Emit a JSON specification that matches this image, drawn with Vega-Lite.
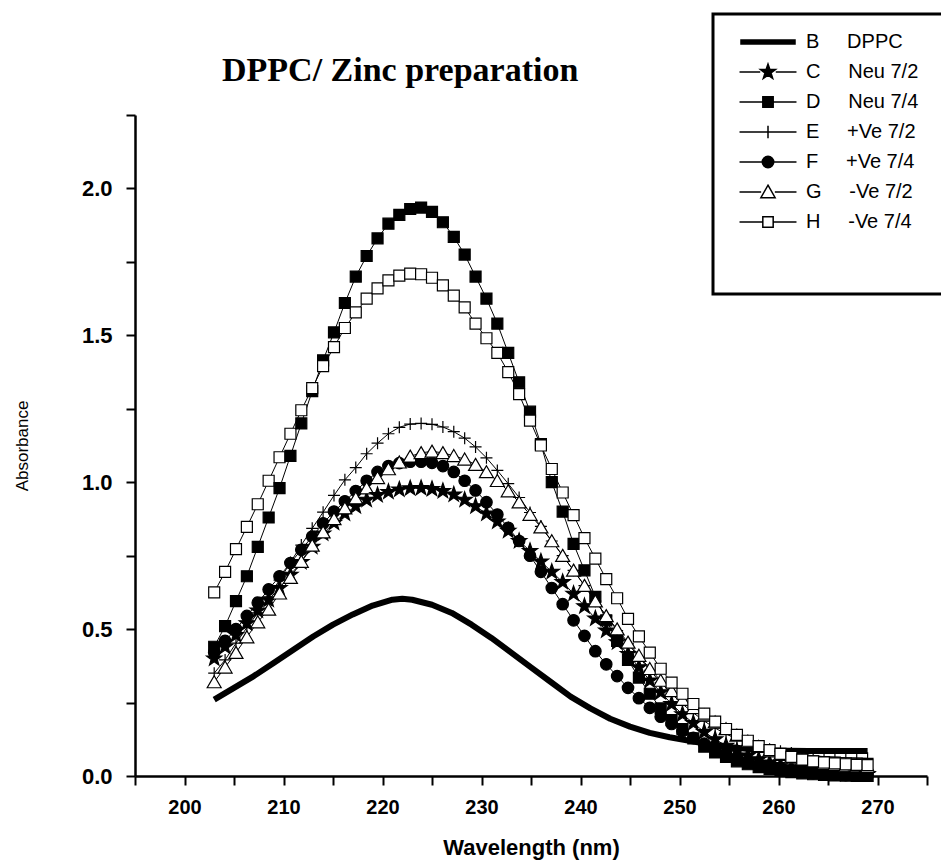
{
  "$schema": "https://vega.github.io/schema/vega-lite/v6.json",
  "width": 792,
  "height": 661,
  "autosize": {"type": "none"},
  "padding": {"left": 135, "top": 115, "right": 14, "bottom": 91},
  "background": "white",
  "title": {"text": "DPPC/ Zinc preparation", "font": "Liberation Serif", "fontSize": 34, "fontWeight": "bold", "color": "black", "anchor": "start", "frame": "group", "dx": 87, "offset": 0, "baseline": "alphabetic", "dy": 102},
  "config": {
    "view": {"stroke": null},
    "legend": {"strokeWidth": 3},
    "axis": {"domainColor": "black", "domainWidth": 2.5, "tickColor": "black", "tickWidth": 2, "tickSize": 9, "labelFont": "Liberation Sans", "labelFontWeight": "bold", "labelColor": "black", "titleColor": "black", "grid": false, "labelOverlap": false, "labelFlush": false}
  },
  "resolve": {"scale": {"shape": "independent", "fill": "independent", "stroke": "independent"}, "legend": {"shape": "independent", "fill": "independent", "stroke": "independent"}},
  "datasets": {
    "b": [
      {"x": 203, "y": 0.26}, {"x": 205, "y": 0.30}, {"x": 207, "y": 0.34}, {"x": 209, "y": 0.385}, {"x": 211, "y": 0.43},
      {"x": 213, "y": 0.475}, {"x": 215, "y": 0.515}, {"x": 217, "y": 0.55}, {"x": 219, "y": 0.58}, {"x": 221, "y": 0.60},
      {"x": 222, "y": 0.603}, {"x": 223, "y": 0.60}, {"x": 225, "y": 0.583}, {"x": 227, "y": 0.555}, {"x": 229, "y": 0.515},
      {"x": 231, "y": 0.47}, {"x": 233, "y": 0.42}, {"x": 235, "y": 0.37}, {"x": 237, "y": 0.32}, {"x": 239, "y": 0.27},
      {"x": 241, "y": 0.23}, {"x": 243, "y": 0.195}, {"x": 245, "y": 0.168}, {"x": 247, "y": 0.147}, {"x": 249, "y": 0.132},
      {"x": 251, "y": 0.12}, {"x": 253, "y": 0.108}, {"x": 255, "y": 0.099}, {"x": 257, "y": 0.092}, {"x": 259, "y": 0.088},
      {"x": 261, "y": 0.086}, {"x": 263, "y": 0.085}, {"x": 265, "y": 0.085}, {"x": 267, "y": 0.085}, {"x": 269, "y": 0.085}
    ],
    "m": [
      {"x": 203.0, "C": 0.40, "D": 0.44, "E": 0.35, "F": 0.42, "G": 0.32, "H": 0.625},
      {"x": 204.1, "C": 0.44, "D": 0.51, "E": 0.395, "F": 0.46, "G": 0.37, "H": 0.695},
      {"x": 205.2, "C": 0.48, "D": 0.595, "E": 0.452, "F": 0.50, "G": 0.42, "H": 0.772},
      {"x": 206.3, "C": 0.52, "D": 0.68, "E": 0.505, "F": 0.545, "G": 0.473, "H": 0.848},
      {"x": 207.4, "C": 0.563, "D": 0.78, "E": 0.555, "F": 0.59, "G": 0.524, "H": 0.925},
      {"x": 208.5, "C": 0.60, "D": 0.88, "E": 0.61, "F": 0.635, "G": 0.567, "H": 1.005},
      {"x": 209.6, "C": 0.64, "D": 0.98, "E": 0.667, "F": 0.68, "G": 0.622, "H": 1.085},
      {"x": 210.7, "C": 0.685, "D": 1.09, "E": 0.727, "F": 0.725, "G": 0.675, "H": 1.165},
      {"x": 211.8, "C": 0.728, "D": 1.20, "E": 0.786, "F": 0.77, "G": 0.73, "H": 1.245},
      {"x": 212.9, "C": 0.78, "D": 1.31, "E": 0.843, "F": 0.815, "G": 0.785, "H": 1.32},
      {"x": 214.0, "C": 0.825, "D": 1.415, "E": 0.898, "F": 0.86, "G": 0.83, "H": 1.395},
      {"x": 215.1, "C": 0.862, "D": 1.51, "E": 0.955, "F": 0.90, "G": 0.875, "H": 1.46},
      {"x": 216.2, "C": 0.893, "D": 1.61, "E": 1.008, "F": 0.935, "G": 0.912, "H": 1.525},
      {"x": 217.3, "C": 0.918, "D": 1.70, "E": 1.05, "F": 0.97, "G": 0.946, "H": 1.578},
      {"x": 218.4, "C": 0.94, "D": 1.77, "E": 1.097, "F": 1.005, "G": 0.98, "H": 1.625},
      {"x": 219.5, "C": 0.956, "D": 1.83, "E": 1.133, "F": 1.035, "G": 1.015, "H": 1.66},
      {"x": 220.6, "C": 0.967, "D": 1.88, "E": 1.165, "F": 1.055, "G": 1.045, "H": 1.687},
      {"x": 221.7, "C": 0.975, "D": 1.91, "E": 1.187, "F": 1.065, "G": 1.068, "H": 1.703},
      {"x": 222.8, "C": 0.979, "D": 1.93, "E": 1.198, "F": 1.07, "G": 1.088, "H": 1.71},
      {"x": 223.9, "C": 0.98, "D": 1.935, "E": 1.20, "F": 1.07, "G": 1.10, "H": 1.708},
      {"x": 225.0, "C": 0.977, "D": 1.92, "E": 1.197, "F": 1.066, "G": 1.105, "H": 1.696},
      {"x": 226.1, "C": 0.97, "D": 1.885, "E": 1.188, "F": 1.055, "G": 1.10, "H": 1.67},
      {"x": 227.2, "C": 0.958, "D": 1.835, "E": 1.172, "F": 1.035, "G": 1.09, "H": 1.635},
      {"x": 228.3, "C": 0.94, "D": 1.775, "E": 1.15, "F": 1.005, "G": 1.078, "H": 1.595},
      {"x": 229.4, "C": 0.918, "D": 1.70, "E": 1.12, "F": 0.972, "G": 1.06, "H": 1.54},
      {"x": 230.5, "C": 0.893, "D": 1.625, "E": 1.083, "F": 0.932, "G": 1.035, "H": 1.49},
      {"x": 231.6, "C": 0.866, "D": 1.54, "E": 1.04, "F": 0.89, "G": 1.005, "H": 1.44},
      {"x": 232.7, "C": 0.835, "D": 1.44, "E": 0.995, "F": 0.845, "G": 0.97, "H": 1.375},
      {"x": 233.8, "C": 0.80, "D": 1.34, "E": 0.948, "F": 0.80, "G": 0.932, "H": 1.30},
      {"x": 234.9, "C": 0.766, "D": 1.24, "E": 0.897, "F": 0.75, "G": 0.89, "H": 1.21},
      {"x": 236.0, "C": 0.73, "D": 1.13, "E": 0.85, "F": 0.695, "G": 0.847, "H": 1.125},
      {"x": 237.1, "C": 0.695, "D": 1.00, "E": 0.80, "F": 0.64, "G": 0.80, "H": 1.045},
      {"x": 238.2, "C": 0.66, "D": 0.90, "E": 0.75, "F": 0.585, "G": 0.75, "H": 0.965},
      {"x": 239.3, "C": 0.62, "D": 0.79, "E": 0.70, "F": 0.53, "G": 0.70, "H": 0.888},
      {"x": 240.4, "C": 0.578, "D": 0.70, "E": 0.648, "F": 0.477, "G": 0.648, "H": 0.81},
      {"x": 241.5, "C": 0.536, "D": 0.61, "E": 0.595, "F": 0.425, "G": 0.595, "H": 0.74},
      {"x": 242.6, "C": 0.495, "D": 0.53, "E": 0.545, "F": 0.38, "G": 0.545, "H": 0.67},
      {"x": 243.7, "C": 0.455, "D": 0.46, "E": 0.495, "F": 0.34, "G": 0.50, "H": 0.605},
      {"x": 244.8, "C": 0.415, "D": 0.395, "E": 0.45, "F": 0.30, "G": 0.455, "H": 0.535},
      {"x": 245.9, "C": 0.37, "D": 0.335, "E": 0.405, "F": 0.265, "G": 0.41, "H": 0.475},
      {"x": 247.0, "C": 0.325, "D": 0.28, "E": 0.36, "F": 0.232, "G": 0.365, "H": 0.42},
      {"x": 248.1, "C": 0.285, "D": 0.23, "E": 0.318, "F": 0.202, "G": 0.325, "H": 0.365},
      {"x": 249.2, "C": 0.245, "D": 0.19, "E": 0.28, "F": 0.177, "G": 0.29, "H": 0.318},
      {"x": 250.3, "C": 0.21, "D": 0.16, "E": 0.245, "F": 0.152, "G": 0.26, "H": 0.28},
      {"x": 251.4, "C": 0.18, "D": 0.128, "E": 0.215, "F": 0.13, "G": 0.232, "H": 0.245},
      {"x": 252.5, "C": 0.15, "D": 0.10, "E": 0.187, "F": 0.11, "G": 0.207, "H": 0.212},
      {"x": 253.6, "C": 0.125, "D": 0.08, "E": 0.163, "F": 0.092, "G": 0.183, "H": 0.185},
      {"x": 254.7, "C": 0.103, "D": 0.065, "E": 0.143, "F": 0.077, "G": 0.16, "H": 0.16},
      {"x": 255.8, "C": 0.085, "D": 0.05, "E": 0.126, "F": 0.063, "G": 0.138, "H": 0.14},
      {"x": 256.9, "C": 0.07, "D": 0.04, "E": 0.112, "F": 0.051, "G": 0.118, "H": 0.12},
      {"x": 258.0, "C": 0.057, "D": 0.03, "E": 0.10, "F": 0.041, "G": 0.10, "H": 0.102},
      {"x": 259.1, "C": 0.046, "D": 0.024, "E": 0.091, "F": 0.032, "G": 0.085, "H": 0.088},
      {"x": 260.2, "C": 0.037, "D": 0.018, "E": 0.084, "F": 0.025, "G": 0.073, "H": 0.075},
      {"x": 261.3, "C": 0.03, "D": 0.013, "E": 0.078, "F": 0.019, "G": 0.063, "H": 0.065},
      {"x": 262.4, "C": 0.024, "D": 0.009, "E": 0.073, "F": 0.014, "G": 0.055, "H": 0.056},
      {"x": 263.5, "C": 0.019, "D": 0.006, "E": 0.069, "F": 0.01, "G": 0.048, "H": 0.05},
      {"x": 264.6, "C": 0.015, "D": 0.004, "E": 0.066, "F": 0.007, "G": 0.043, "H": 0.046},
      {"x": 265.7, "C": 0.012, "D": 0.002, "E": 0.064, "F": 0.005, "G": 0.039, "H": 0.043},
      {"x": 266.8, "C": 0.01, "D": 0.001, "E": 0.062, "F": 0.003, "G": 0.036, "H": 0.04},
      {"x": 267.9, "C": 0.008, "D": 0.0, "E": 0.061, "F": 0.002, "G": 0.034, "H": 0.038},
      {"x": 269.0, "C": 0.007, "D": 0.0, "E": 0.06, "F": 0.001, "G": 0.032, "H": 0.037}
    ]
  },
  "layer": [
    {
      "data": {"name": "b"},
      "mark": {"type": "line", "color": "black", "strokeWidth": 6, "strokeCap": "butt", "strokeJoin": "round"},
      "encoding": {
        "x": {"field": "x", "type": "quantitative", "scale": {"domain": [195, 275], "nice": false, "zero": false},
          "axis": {"title": "Wavelength (nm)", "values": [195, 200, 205, 210, 215, 220, 225, 230, 235, 240, 245, 250, 255, 260, 265, 270, 275],
            "labelExpr": "datum.value % 10 === 0 ? datum.label : ''", "labelPadding": 12, "labelFontSize": 20,
            "titleFont": "Liberation Sans", "titleFontSize": 22, "titleFontWeight": "bold", "titlePadding": 20,
            "encode": {"ticks": {"y2": {"value": {"expr": "datum.value % 10 === 0 ? 9 : 5"}}}}}},
        "y": {"field": "y", "type": "quantitative", "scale": {"domain": [0, 2.25], "nice": false, "zero": false},
          "axis": {"title": "Absorbance", "values": [0, 0.25, 0.5, 0.75, 1, 1.25, 1.5, 1.75, 2, 2.25],
            "labelExpr": "datum.value * 2 === round(datum.value * 2) ? format(datum.value, '.1f') : ''", "labelPadding": 14, "labelFontSize": 22,
            "titleFont": "Liberation Sans", "titleFontSize": 17, "titleFontWeight": "normal", "titlePadding": 50,
            "encode": {"ticks": {"x2": {"value": {"expr": "datum.value * 2 === round(datum.value * 2) ? -9 : -5"}}}}}}
      }
    },
    {
      "data": {"name": "m"},
      "transform": [{"fold": ["C", "D", "E", "F", "G", "H"], "as": ["s", "v"]}],
      "layer": [
        {
          "mark": {"type": "line", "color": "black", "strokeWidth": 1},
          "encoding": {
            "x": {"field": "x", "type": "quantitative"},
            "y": {"field": "v", "type": "quantitative"},
            "detail": {"field": "s", "type": "nominal"}
          }
        },
        {
          "mark": {"type": "point", "filled": true, "stroke": "black", "strokeWidth": 1.2, "opacity": 1, "size": 100},
          "encoding": {
            "x": {"field": "x", "type": "quantitative"},
            "y": {"field": "v", "type": "quantitative"},
            "fill": {"field": "s", "type": "nominal", "legend": null,
              "scale": {"domain": ["C", "D", "E", "F", "G", "H"], "range": ["black", "black", "transparent", "black", "white", "white"]}},
            "shape": {"field": "s", "type": "nominal", "legend": null,
              "scale": {"domain": ["C", "D", "E", "F", "G", "H"],
                "range": [
                  "M0,-1.6L0.376,-0.518L1.522,-0.494L0.608,0.198L0.941,1.294L0,0.64L-0.941,1.294L-0.608,0.198L-1.522,-0.494L-0.376,-0.518Z",
                  "M-1.1,-1.1H1.1V1.1H-1.1Z",
                  "M-1.2,0H1.2M0,-1.2V1.2",
                  "M1.15,0A1.15,1.15,0,1,1,-1.15,0A1.15,1.15,0,1,1,1.15,0Z",
                  "M0,-1.25L1.4,1.15L-1.4,1.15Z",
                  "M-1.1,-1.1H1.1V1.1H-1.1Z"]}}
          }
        }
      ]
    },
    {
      "data": {"values": []},
      "mark": {"type": "point", "filled": true, "strokeWidth": 1.5, "opacity": 1},
      "encoding": {
        "stroke": {"field": "k", "type": "nominal",
          "scale": {"domain": ["B", "C", "D", "E", "F", "G", "H"], "range": ["black", "black", "black", "black", "black", "black", "black"]},
          "legend": {
            "orient": "none", "legendX": 578, "legendY": -101,
            "title": "\u00a0", "titleOrient": "bottom", "titleFontSize": 40, "titlePadding": 13,
            "labelExpr": "datum.value === 'B' ? 'B\u00a0\u00a0\u00a0\u00a0\u00a0DPPC\u00a0\u00a0\u2800\u2800\u2800' : datum.value === 'C' ? 'C\u00a0\u00a0\u00a0\u00a0\u00a0Neu 7/2\u00a0\u00a0\u2800\u2800\u2800' : datum.value === 'D' ? 'D\u00a0\u00a0\u00a0\u00a0\u00a0Neu 7/4\u00a0\u00a0\u2800\u2800\u2800' : datum.value === 'E' ? 'E\u00a0\u00a0\u00a0\u00a0\u00a0+Ve 7/2\u00a0\u00a0\u2800\u2800\u2800' : datum.value === 'F' ? 'F\u00a0\u00a0\u00a0\u00a0\u00a0+Ve 7/4\u00a0\u00a0\u2800\u2800\u2800' : datum.value === 'G' ? 'G\u00a0\u00a0\u00a0\u00a0\u00a0-Ve 7/2\u00a0\u00a0\u2800\u2800\u2800' : 'H\u00a0\u00a0\u00a0\u00a0\u00a0-Ve 7/4\u00a0\u00a0\u2800\u2800\u2800'",
            "labelFont": "Liberation Sans", "labelFontSize": 20, "labelColor": "black", "labelLimit": 400,
            "symbolSize": 1369, "symbolStrokeWidth": 1.5, "symbolOffset": 27, "labelOffset": 18.5,
            "padding": 8.5, "rowPadding": 0,
            "strokeColor": "black", "fillColor": "white", "cornerRadius": 0
          }
        },
        "fill": {"field": "k", "type": "nominal",
          "scale": {"domain": ["B", "C", "D", "E", "F", "G", "H"], "range": ["black", "black", "black", "transparent", "black", "white", "white"]},
          "legend": {
            "orient": "none", "legendX": 578, "legendY": -101,
            "title": "\u00a0", "titleOrient": "bottom", "titleFontSize": 40, "titlePadding": 13,
            "labelExpr": "datum.value === 'B' ? 'B\u00a0\u00a0\u00a0\u00a0\u00a0DPPC\u00a0\u00a0\u2800\u2800\u2800' : datum.value === 'C' ? 'C\u00a0\u00a0\u00a0\u00a0\u00a0Neu 7/2\u00a0\u00a0\u2800\u2800\u2800' : datum.value === 'D' ? 'D\u00a0\u00a0\u00a0\u00a0\u00a0Neu 7/4\u00a0\u00a0\u2800\u2800\u2800' : datum.value === 'E' ? 'E\u00a0\u00a0\u00a0\u00a0\u00a0+Ve 7/2\u00a0\u00a0\u2800\u2800\u2800' : datum.value === 'F' ? 'F\u00a0\u00a0\u00a0\u00a0\u00a0+Ve 7/4\u00a0\u00a0\u2800\u2800\u2800' : datum.value === 'G' ? 'G\u00a0\u00a0\u00a0\u00a0\u00a0-Ve 7/2\u00a0\u00a0\u2800\u2800\u2800' : 'H\u00a0\u00a0\u00a0\u00a0\u00a0-Ve 7/4\u00a0\u00a0\u2800\u2800\u2800'",
            "labelFont": "Liberation Sans", "labelFontSize": 20, "labelColor": "black", "labelLimit": 400,
            "symbolSize": 1369, "symbolStrokeWidth": 1.5, "symbolOffset": 27, "labelOffset": 18.5,
            "padding": 8.5, "rowPadding": 0,
            "strokeColor": "black", "fillColor": "white", "cornerRadius": 0
          }
        },
        "shape": {"field": "k", "type": "nominal",
          "scale": {"domain": ["B", "C", "D", "E", "F", "G", "H"],
            "range": [
              "M-1.46,-0.11H1.46V0.11H-1.46Z",
              "M-1.54,0H-0.42M0.42,0H1.54M0,-0.431L0.102,-0.14L0.41,-0.134L0.163,0.054L0.254,0.35L0,0.172L-0.254,0.35L-0.163,0.054L-0.41,-0.134L-0.102,-0.14Z",
              "M-1.54,0H-0.28M0.28,0H1.54M-0.28,-0.28H0.28V0.28H-0.28Z",
              "M-1.54,0H1.54M0,-0.34V0.34",
              "M-1.54,0H-0.31M0.31,0H1.54M0.31,0A0.31,0.31,0,1,1,-0.31,0A0.31,0.31,0,1,1,0.31,0Z",
              "M-1.54,0H-0.37M0.37,0H1.54M0,-0.37L0.385,0.31L-0.385,0.31Z",
              "M-1.54,0H-0.28M0.28,0H1.54M-0.28,-0.28H0.28V0.28H-0.28Z"]},
          "legend": {
            "orient": "none", "legendX": 578, "legendY": -101,
            "title": "\u00a0", "titleOrient": "bottom", "titleFontSize": 40, "titlePadding": 13,
            "labelExpr": "datum.value === 'B' ? 'B\u00a0\u00a0\u00a0\u00a0\u00a0DPPC\u00a0\u00a0\u2800\u2800\u2800' : datum.value === 'C' ? 'C\u00a0\u00a0\u00a0\u00a0\u00a0Neu 7/2\u00a0\u00a0\u2800\u2800\u2800' : datum.value === 'D' ? 'D\u00a0\u00a0\u00a0\u00a0\u00a0Neu 7/4\u00a0\u00a0\u2800\u2800\u2800' : datum.value === 'E' ? 'E\u00a0\u00a0\u00a0\u00a0\u00a0+Ve 7/2\u00a0\u00a0\u2800\u2800\u2800' : datum.value === 'F' ? 'F\u00a0\u00a0\u00a0\u00a0\u00a0+Ve 7/4\u00a0\u00a0\u2800\u2800\u2800' : datum.value === 'G' ? 'G\u00a0\u00a0\u00a0\u00a0\u00a0-Ve 7/2\u00a0\u00a0\u2800\u2800\u2800' : 'H\u00a0\u00a0\u00a0\u00a0\u00a0-Ve 7/4\u00a0\u00a0\u2800\u2800\u2800'",
            "labelFont": "Liberation Sans", "labelFontSize": 20, "labelColor": "black", "labelLimit": 400,
            "symbolSize": 1369, "symbolStrokeWidth": 1.5, "symbolOffset": 27, "labelOffset": 18.5,
            "padding": 8.5, "rowPadding": 0,
            "strokeColor": "black", "fillColor": "white", "cornerRadius": 0
          }
        }
      }
    }
  ]
}
